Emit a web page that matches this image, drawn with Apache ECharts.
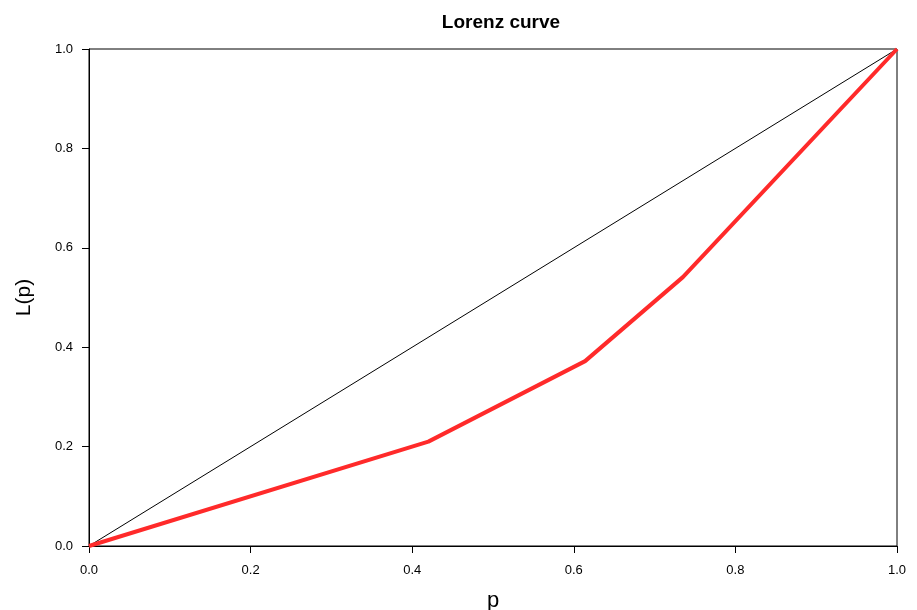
<!DOCTYPE html>
<html><head><meta charset="utf-8">
<script src="https://cdn.jsdelivr.net/npm/echarts@6/dist/echarts.min.js"></script>
<style>html,body{margin:0;padding:0;background:#fff}#c{width:917px;height:610px}</style>
</head><body><div id="c"></div>
<script>
const lorenzP = [0, 0.42, 0.614, 0.735, 1.0];
const lorenzL = [0, 0.21, 0.372, 0.541, 1.0];
const equalityP = [0, 1];
const equalityL = [0, 1];
const tickLabels = ['0.0','0.2','0.4','0.6','0.8','1.0'];

const chart = echarts.init(document.getElementById('c'));
const font = 'Liberation Sans, Arial, sans-serif';
chart.setOption({
  animation: false,
  title: {text: 'Lorenz curve', left: 496, textAlign: 'center', top: 8,
    textStyle: {fontFamily: font, fontSize: 19, fontWeight: 'bold', color: '#000'}},
  grid: {left: 89, right: 20, top: 49, bottom: 64, show: true, borderColor: '#000', borderWidth: 1,
    containLabel: false, outerBoundsMode: 'none'},
  xAxis: {type: 'value', min: 0, max: 1, interval: 0.2, name: 'p', nameLocation: 'middle', nameGap: 44,
    nameTextStyle: {fontFamily: font, fontSize: 22, color: '#000'},
    axisLine: {lineStyle: {color: '#000'}}, axisTick: {length: 7, lineStyle: {color: '#000'}},
    splitLine: {show: false},
    axisLabel: {fontFamily: font, fontSize: 13, color: '#000', margin: 18,
      formatter: v => tickLabels[Math.round(v * 5)]}},
  yAxis: {type: 'value', min: 0, max: 1, interval: 0.2, name: 'L(p)', nameLocation: 'middle', nameGap: 54,
    nameTextStyle: {fontFamily: font, fontSize: 21, color: '#000'},
    axisLine: {show: true, lineStyle: {color: '#000'}}, axisTick: {show: true, length: 7, lineStyle: {color: '#000'}},
    splitLine: {show: false},
    axisLabel: {fontFamily: font, fontSize: 13, color: '#000', margin: 16,
      formatter: v => tickLabels[Math.round(v * 5)]}},
  series: [
    {type: 'line', data: equalityP.map((p, i) => [p, equalityL[i]]), symbol: 'none',
      lineStyle: {color: '#000', width: 1}, z: 2},
    {type: 'line', data: lorenzP.map((p, i) => [p, lorenzL[i]]), symbol: 'none',
      lineStyle: {color: '#ff2a2a', width: 4}, z: 3}
  ]
});
</script></body></html>
